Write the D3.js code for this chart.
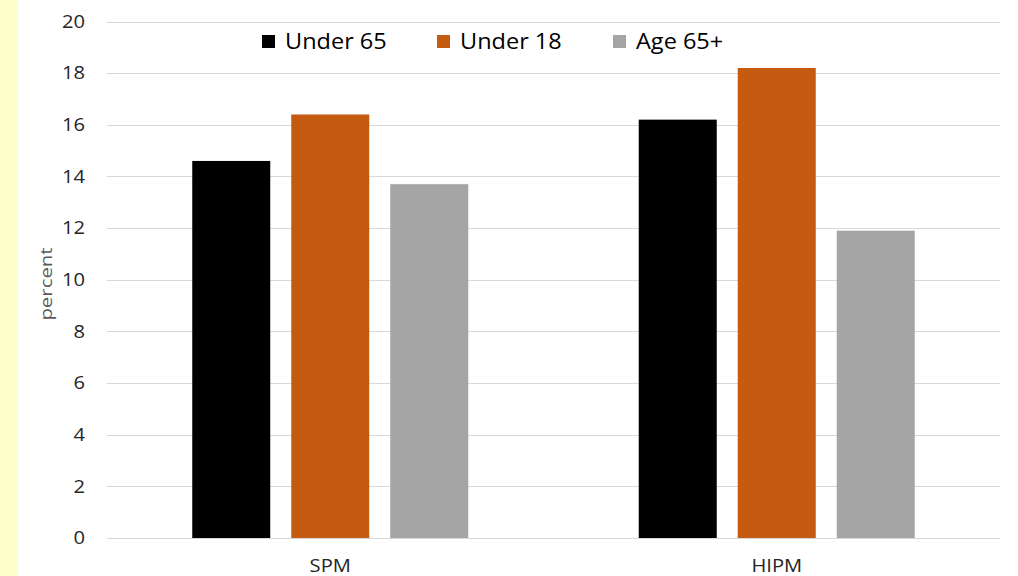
<!DOCTYPE html>
<html>
<head>
<meta charset="utf-8">
<script src="https://cdn.jsdelivr.net/npm/d3@7"></script>
<style>
  html, body { margin: 0; padding: 0; background: #fff; }
  svg { display: block; }
  text { font-family: "Open Sans", "Liberation Sans", sans-serif; }
</style>
</head>
<body>
<svg id="chart" width="1018" height="576"></svg>
<script>
// Poverty rates by measure and age group
const categories = ["SPM", "HIPM"];
const seriesNames = ["Under 65", "Under 18", "Age 65+"];
const under65 = [14.6, 16.2];
const under18 = [16.4, 18.2];
const age65plus = [13.7, 11.9];
const yTicks = [0, 2, 4, 6, 8, 10, 12, 14, 16, 18, 20];
const colors = ["#000000", "#c55a11", "#a5a5a5"];

const seriesValues = [under65, under18, age65plus];

const svg = d3.select("#chart");
const W = 1018, H = 576;
const wide = 1.12; // horizontal stretch of the lettering

// page background and pale side strip
svg.append("rect").attr("x", 0).attr("y", 0).attr("width", W).attr("height", H).attr("fill", "#ffffff");
svg.append("rect").attr("x", 0).attr("y", 0).attr("width", 18).attr("height", H).attr("fill", "#ffffcc");

const plot = { left: 107, right: 1000, top: 21.5, bottom: 538 };

const y = d3.scaleLinear().domain([0, 20]).range([plot.bottom, plot.top]);
const x0 = d3.scaleBand().domain(categories).range([plot.left, plot.right]).padding(0);
const groupWidth = 276;
const x1 = d3.scaleBand().domain(seriesNames)
  .range([(x0.bandwidth() - groupWidth) / 2, (x0.bandwidth() + groupWidth) / 2])
  .paddingInner(21 / 99).paddingOuter(0);

// gridlines
svg.append("g")
  .selectAll("line")
  .data(yTicks)
  .join("line")
  .attr("x1", plot.left).attr("x2", plot.right)
  .attr("y1", d => Math.round(y(d)) + 0.5).attr("y2", d => Math.round(y(d)) + 0.5)
  .attr("stroke", "#d9d9d9").attr("stroke-width", 1);

// y axis labels
const yAxis = d3.axisLeft(y).tickValues(yTicks).tickSize(0).tickPadding(0);
const gy = svg.append("g").attr("transform", `translate(85,0)`).call(yAxis);
gy.select(".domain").remove();
gy.selectAll("text")
  .attr("font-size", 18).attr("fill", "#262626")
  .attr("font-family", "'Open Sans', 'Liberation Sans', sans-serif")
  .attr("transform", `scale(${wide},1)`);

// y axis title
svg.append("text")
  .attr("transform", `translate(52,284) rotate(-90) scale(1.2,1)`)
  .attr("text-anchor", "middle")
  .attr("font-size", 17).attr("fill", "#595959")
  .text("percent");

// bars
const groups = svg.append("g")
  .selectAll("g")
  .data(categories)
  .join("g")
  .attr("transform", c => `translate(${x0(c)},0)`);

groups.selectAll("rect")
  .data((c, ci) => seriesNames.map((s, si) => ({ s, si, v: seriesValues[si][ci] })))
  .join("rect")
  .attr("x", d => x1(d.s))
  .attr("width", x1.bandwidth())
  .attr("y", d => y(d.v))
  .attr("height", d => y(0) - y(d.v))
  .attr("fill", d => colors[d.si]);

// x axis labels
const xAxis = d3.axisBottom(x0).tickSize(0).tickPadding(0);
const gx = svg.append("g").attr("transform", `translate(0,${plot.bottom + 20})`).call(xAxis);
gx.select(".domain").remove();
gx.selectAll("text")
  .attr("font-size", 18).attr("fill", "#262626")
  .attr("font-family", "'Open Sans', 'Liberation Sans', sans-serif")
  .attr("dy", "0.75em")
  .attr("transform", `scale(${wide},1)`);

// legend
const legendX = [262, 437, 613];
const legend = svg.append("g")
  .selectAll("g")
  .data(seriesNames)
  .join("g")
  .attr("transform", (d, i) => `translate(${legendX[i]},35)`);
legend.append("rect").attr("width", 13).attr("height", 13).attr("fill", (d, i) => colors[i]);
legend.append("text")
  .attr("transform", `translate(23,14) scale(${wide},1)`)
  .attr("font-size", 21).attr("fill", "#000")
  .text(d => d);
</script>
</body>
</html>
